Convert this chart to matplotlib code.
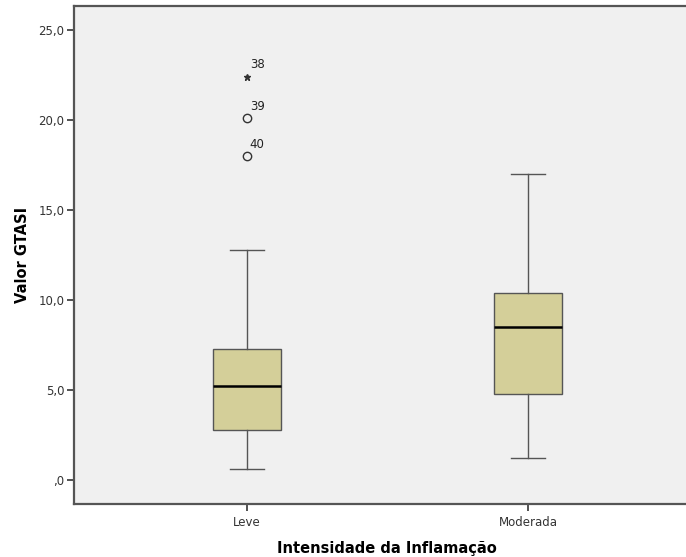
import matplotlib
matplotlib.use("Agg")
import matplotlib.pyplot as plt
from matplotlib.ticker import FuncFormatter

# Summary statistics for the GTASI score by inflammation intensity
categories = ["Leve", "Moderada"]
whisker_low = [0.6, 1.2]
q1 = [2.8, 4.8]
median = [5.2, 8.5]
q3 = [7.3, 10.4]
whisker_high = [12.8, 17.0]

# Leve outliers (case number, value, kind)
outlier_cases = ["38", "39", "40"]
outlier_values = [22.4, 20.1, 18.0]
outlier_kind = ["extreme", "mild", "mild"]

yticks = [0, 5, 10, 15, 20, 25]

fig = plt.figure(figsize=(6.86, 5.57), dpi=100)
ax = fig.add_axes([74 / 686, 53 / 557, 1 - 74 / 686, 498 / 557])
ax.set_facecolor("#f0f0f0")

stats = []
for i, name in enumerate(categories):
    stats.append(dict(label=name, whislo=whisker_low[i], q1=q1[i], med=median[i],
                      q3=q3[i], whishi=whisker_high[i], fliers=[]))

ax.bxp(stats, positions=range(len(categories)), widths=0.242, patch_artist=True,
       showfliers=False,
       boxprops=dict(facecolor="#d4cf99", edgecolor="#555555", linewidth=1.0),
       medianprops=dict(color="black", linewidth=1.8),
       whiskerprops=dict(color="#555555", linewidth=1.0),
       capprops=dict(color="#555555", linewidth=1.0),
       capwidths=0.121)

# Outliers for the first group, with case labels
for case, val, kind in zip(outlier_cases, outlier_values, outlier_kind):
    if kind == "extreme":
        ax.plot(0, val, marker="*", color="#333333", markersize=5, linestyle="none")
    else:
        ax.plot(0, val, marker="o", markerfacecolor="none", markeredgecolor="#333333",
                markersize=6, markeredgewidth=1.0, linestyle="none")
    ax.annotate(case, (0, val), xytext=(2, 6), textcoords="offset points",
                fontsize=8.5, color="#222222")

ax.set_ylim(-1.33, 26.33)
ax.set_xlim(-0.616, 1.562)
ax.set_yticks(yticks)
ax.yaxis.set_major_formatter(FuncFormatter(
    lambda v, p: ("%.1f" % v).replace(".", ",").lstrip("0") if v == 0 else ("%.1f" % v).replace(".", ",")))
ax.set_xticks(range(len(categories)))
ax.set_xticklabels(categories)
ax.tick_params(axis="both", labelsize=8.5, colors="#333333", length=5, width=1.2,
               direction="out", pad=2)
ax.tick_params(axis="x", pad=4)

for side in ["left", "bottom", "top"]:
    ax.spines[side].set_color("#555555")
    ax.spines[side].set_linewidth(1.6)
ax.spines["right"].set_visible(False)

ax.set_ylabel("Valor GTASI", fontsize=10.5, fontweight="bold", labelpad=8)
ax.set_xlabel("Intensidade da Inflamação", fontsize=10.5, fontweight="bold", labelpad=10)
ax.xaxis.set_label_coords((387 - 74) / 612, -37 / 498)
ax.yaxis.set_label_coords(-44 / 612, 0.5)

fig.savefig("out.png", dpi=100)
